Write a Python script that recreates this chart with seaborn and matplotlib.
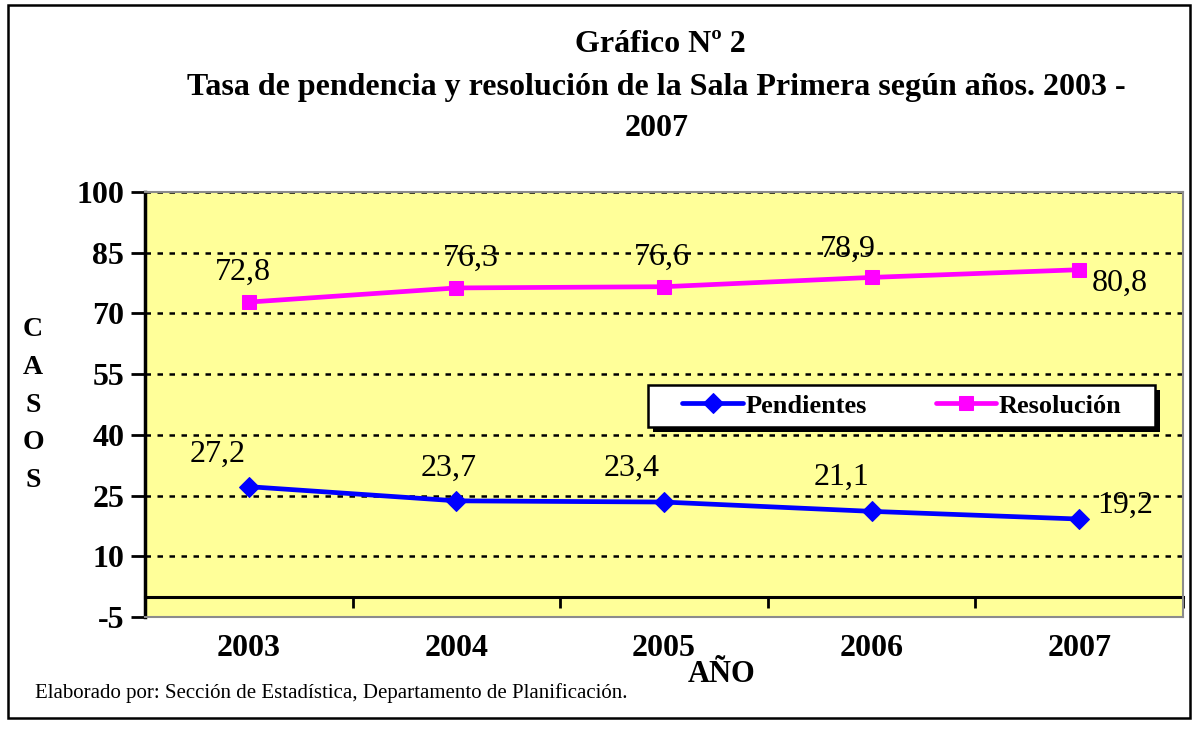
import numpy as np
import pandas as pd
import matplotlib
matplotlib.use("Agg")
import matplotlib.pyplot as plt
from matplotlib.patches import Rectangle
import seaborn as sns

# ---- data ----
years = ["2003", "2004", "2005", "2006", "2007"]
pendientes = [27.2, 23.7, 23.4, 21.1, 19.2]
resolucion = [72.8, 76.3, 76.6, 78.9, 80.8]
series_names = ["Pendientes", "Resolución"]
y_ticks = [-5, 10, 25, 40, 55, 70, 85, 100]

title_l1 = "Gráfico Nº 2"
title_l2 = "Tasa de pendencia y resolución de la Sala Primera según años. 2003 -"
title_l3 = "2007"
x_label = "AÑO"
y_label = "C\nA\nS\nO\nS"
footnote = "Elaborado por: Sección de Estadística, Departamento de Planificación."

# label offsets in pixels (style only)
off_pend = [(-31, 32), (-8, 33), (-32, 34), (-30, 34), (46, 14)]
off_res = [(-6, 30), (14, 30), (-2, 29), (-24, 28), (41, -14)]

df = pd.DataFrame({
    "idx": list(range(len(years))) * 2,
    "valor": pendientes + resolucion,
    "serie": [series_names[0]] * len(years) + [series_names[1]] * len(years),
})

sns.set_theme(style="white")
plt.rcParams["font.family"] = ["Liberation Serif", "DejaVu Serif"]
plt.rcParams["text.color"] = "black"
plt.rcParams["xtick.color"] = "black"
plt.rcParams["ytick.color"] = "black"
plt.rcParams["axes.labelcolor"] = "black"

W, H = 1201, 734
fig = plt.figure(figsize=(W / 100, H / 100), dpi=100)
fig.patch.set_facecolor("white")
ax = fig.add_axes([145 / W, 1 - 617 / H, (1183 - 145) / W, (617 - 192) / H])
ax.set_facecolor("#FFFF99")

palette = {"Pendientes": "#0000FF", "Resolución": "#FF00FF"}
markers = {"Pendientes": "D", "Resolución": "s"}
sns.lineplot(data=df, x="idx", y="valor", hue="serie", style="serie",
             palette=palette, markers=markers, dashes=False, linewidth=3.4,
             markersize=10, ax=ax, zorder=5)
for line in ax.lines:
    line.set_markeredgecolor(line.get_color())

ax.set_xlim(-0.5, len(years) - 0.5)
ax.set_ylim(-5, 100)
ax.set_yticks(y_ticks)
ax.set_yticklabels([str(t) for t in y_ticks], fontsize=23, fontweight="bold", color="black")
ax.yaxis.grid(True, color="black", linestyle=(0, (2.2, 2.6)), linewidth=1.8)
ax.xaxis.grid(False)
ax.tick_params(axis="y", direction="out", length=10, width=2, color="black", pad=5, left=True)

ax.set_xticks(range(len(years)))
ax.set_xticklabels(years, fontsize=23, fontweight="bold", color="black")
ax.tick_params(axis="x", length=0, pad=12)
ax.set_xlabel("")
ax.set_ylabel("")

for side in ["top", "right", "bottom"]:
    ax.spines[side].set_color("#8C8C8C")
    ax.spines[side].set_linewidth(1.5)
ax.spines["left"].set_color("black")
ax.spines["left"].set_linewidth(2.5)

# category axis crossing at y=0
sec = ax.secondary_xaxis(5 / 105)
sec.set_xticks(np.arange(-0.5, len(years), 1.0))
sec.tick_params(direction="out", length=8, width=2, color="black", labelbottom=False)
sec.spines["bottom"].set_linewidth(2.2)
sec.spines["bottom"].set_color("black")

# data labels
for i, v in enumerate(pendientes):
    ax.annotate(f"{v:.1f}".replace(".", ","), (i, v), xytext=off_pend[i],
                textcoords="offset pixels", ha="center", va="center", fontsize=23,
                color="black", zorder=6)
for i, v in enumerate(resolucion):
    ax.annotate(f"{v:.1f}".replace(".", ","), (i, v), xytext=off_res[i],
                textcoords="offset pixels", ha="center", va="center", fontsize=23,
                color="black", zorder=6)

# legend box (frame + shadow drawn as figure patches)
lx0, ly0, lx1, ly1 = 648, 385, 1155, 427
fig.patches.append(Rectangle(((lx0 + 5) / W, 1 - (ly1 + 5) / H), (lx1 - lx0) / W, (ly1 - ly0) / H,
                             transform=fig.transFigure, facecolor="black", edgecolor="black",
                             linewidth=0, zorder=8))
fig.patches.append(Rectangle((lx0 / W, 1 - ly1 / H), (lx1 - lx0) / W, (ly1 - ly0) / H,
                             transform=fig.transFigure, facecolor="white", edgecolor="black",
                             linewidth=1.8, zorder=9))

handles, labels = ax.get_legend_handles_labels()
if ax.get_legend() is not None:
    ax.get_legend().remove()
leg = fig.legend(handles, labels, loc="center", bbox_to_anchor=(902 / W, 1 - 406 / H),
                 bbox_transform=fig.transFigure, ncol=2, frameon=False,
                 prop={"family": "Liberation Serif", "weight": "bold", "size": 19},
                 handlelength=2.3, columnspacing=2.6, borderpad=0.3, handletextpad=0.1,
                 borderaxespad=0)
leg.set_zorder(10)
for t in leg.get_texts():
    t.set_color("black")

# titles & labels
fs_title = 23
fig.text(660 / W, 1 - 45 / H, title_l1, ha="center", va="center", fontsize=fs_title, fontweight="bold")
fig.text(656 / W, 1 - 88 / H, title_l2, ha="center", va="center", fontsize=fs_title, fontweight="bold")
fig.text(657 / W, 1 - 128 / H, title_l3, ha="center", va="center", fontsize=fs_title, fontweight="bold")
fig.text(722 / W, 1 - 675 / H, x_label, ha="center", va="center", fontsize=22, fontweight="bold")
fig.text(33 / W, 1 - 405 / H, y_label, ha="center", va="center", fontsize=20, fontweight="bold",
         linespacing=1.68)
fig.text(35 / W, 1 - 693 / H, footnote, ha="left", va="center", fontsize=15)

fig.patches.append(Rectangle((8 / W, 1 - 718 / H), (1190 - 8) / W, (718 - 5) / H,
                             transform=fig.transFigure, fill=False, edgecolor="black",
                             linewidth=1.8, zorder=0))

fig.savefig("out.png", dpi=100, facecolor="white")
